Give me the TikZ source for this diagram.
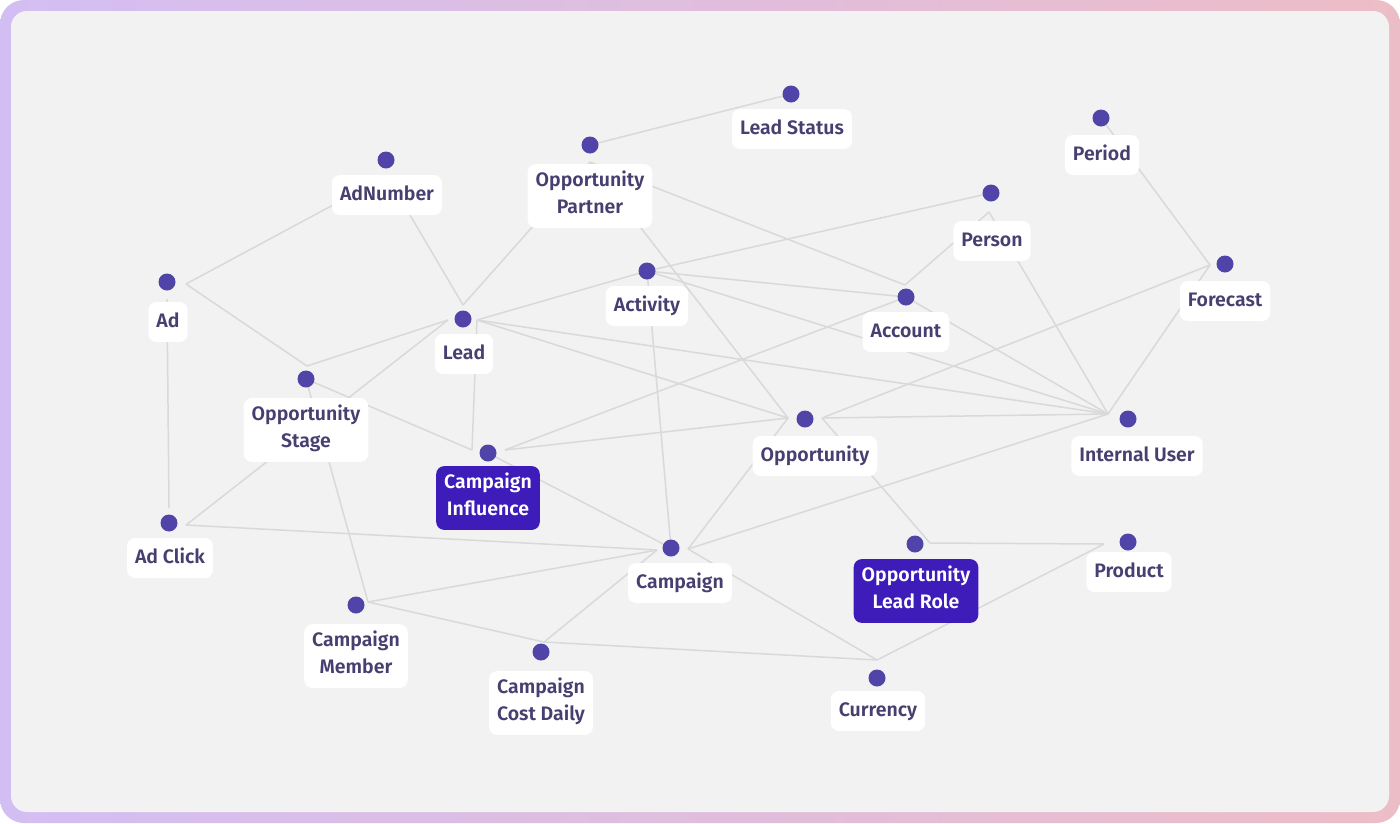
\documentclass[tikz,border=0pt]{standalone}
\usepackage{fontspec}
\newfontfamily\lblfont{Fira Sans}[UprightFont={* SemiBold}]
\definecolor{dotc}{HTML}{5044A8}
\definecolor{txtc}{HTML}{463F70}
\definecolor{hotc}{HTML}{3E1CB9}
\definecolor{edgec}{HTML}{D9D9D9}
\definecolor{panelc}{HTML}{F2F2F2}
\definecolor{lavc}{HTML}{D3BEF3}
\definecolor{pinkc}{HTML}{F5D5EA}
\definecolor{rosec}{HTML}{EDBDC7}
\begin{document}
\begin{tikzpicture}[x=1pt,y=-1pt]

    \tikzset{
      dot/.style={
        circle,
        fill=dotc,
        inner sep=0pt,
        minimum size=17pt,
      },
      lbl/.style={
        fill=white,
        rounded corners=8pt,
        text=txtc,
        font=\lblfont\fontsize{19.5}{27}\selectfont,
        align=center,
        inner xsep=8pt,
        inner ysep=6.5pt,
        execute at begin node=\strut,
        execute at end node=\strut,
      },
      hot/.style={lbl, fill=hotc, text=white},
      link/.style={draw=edgec, line width=1.5pt},
    }
    \useasboundingbox (0,0) rectangle (1400,823);
    \fill[white] (0,0) rectangle (1400,823);
    \shade[rounded corners=24pt, left color=lavc, middle color=pinkc, right color=rosec] (0,0) rectangle (1400,823);
    \fill[panelc, rounded corners=16pt] (11,11) rectangle (1389,812);

    % where the dots sit
    \coordinate (lstat) at (791,94);
    \coordinate (opart) at (590,145);
    \coordinate (adnum) at (386,160);
    \coordinate (period) at (1101,118);
    \coordinate (person) at (991,193);
    \coordinate (ad) at (167,282);
    \coordinate (activ) at (647,271);
    \coordinate (fcast) at (1225,264);
    \coordinate (acct) at (906,297);
    \coordinate (lead) at (463,319);
    \coordinate (ostage) at (306,379);
    \coordinate (opp) at (805,419);
    \coordinate (iuser) at (1128,419);
    \coordinate (cinfl) at (488,453);
    \coordinate (adclk) at (169,523);
    \coordinate (camp) at (671,548);
    \coordinate (olr) at (915,544);
    \coordinate (prod) at (1128,542);
    \coordinate (cmem) at (356,605);
    \coordinate (ccd) at (541,652);
    \coordinate (curr) at (877,678);

    % where the links meet, next to the dots
    \coordinate (adE) at (186,284);
    \coordinate (adS) at (167,299);
    \coordinate (adnumS) at (387,176);
    \coordinate (opartS) at (590,162);
    \coordinate (leadN) at (463,305);
    \coordinate (leadW) at (448,320);
    \coordinate (leadE) at (477,320);
    \coordinate (ostageN) at (307,366);
    \coordinate (cmemE) at (368,602);
    \coordinate (adclkN) at (169,508);
    \coordinate (adclkE) at (186,525);
    \coordinate (personS) at (989,212);
    \coordinate (acctN) at (905,285);
    \coordinate (fcastW) at (1210,265);
    \coordinate (iuserW) at (1108,414);
    \coordinate (oppW) at (788,418);
    \coordinate (oppE) at (822,418);
    \coordinate (cinflW) at (472,450);
    \coordinate (cinflE) at (505,450);
    \coordinate (campW) at (657,550);
    \coordinate (campE) at (688,549);
    \coordinate (olrE) at (930,543);
    \coordinate (prodW) at (1104,544);
    \coordinate (currN) at (877,660);
    \coordinate (ccdN) at (544,642);

    \foreach \a/\b in {lstat/opart, adnumS/adE, adnumS/leadN, adE/ostageN, adS/adclkN,
      opartS/leadN, opartS/oppW, opartS/acctN, ostageN/leadW, ostage/cinflW, ostage/cmemE,
      adclkE/leadW, adclkE/campW, leadE/activ, leadE/cinflW, leadE/iuserW, leadE/oppW,
      activ/person, activ/acct, activ/iuserW, activ/camp, personS/acctN, personS/iuserW,
      acct/iuserW, acct/cinflE, period/fcastW, fcastW/iuserW, fcastW/oppE,
      oppW/cinflE, oppE/iuserW, oppW/campE, oppE/olrE, cinfl/camp,
      campE/iuserW, campW/cmemE, campW/ccdN, campE/currN, cmemE/ccdN, ccdN/currN,
      currN/prodW, olrE/prodW}
      \draw[link] (\a) -- (\b);

    % labels
    \node[lbl] (lstatL) at (792,129) {Lead Status};
    \node[lbl] (opartL) at (590,196) {Opportunity\\Partner};
    \node[lbl] (adnumL) at (387,195) {AdNumber};
    \node[lbl] (periodL) at (1102,155) {Period};
    \node[lbl] (personL) at (992,241) {Person};
    \node[lbl] (adL) at (168,322) {Ad};
    \node[lbl] (activL) at (647,306) {Activity};
    \node[lbl] (fcastL) at (1225,301) {Forecast};
    \node[lbl] (acctL) at (906,332) {Account};
    \node[lbl] (leadL) at (464,354) {Lead};
    \node[lbl] (ostageL) at (306,430) {Opportunity\\Stage};
    \node[lbl] (oppL) at (815,456) {Opportunity};
    \node[lbl] (iuserL) at (1137,456) {Internal User};
    \node[hot] (cinflL) at (488,498) {Campaign\\Influence};
    \node[lbl] (adclkL) at (170,558) {Ad Click};
    \node[lbl] (campL) at (680,583) {Campaign};
    \node[hot] (olrL) at (916,591) {Opportunity\\Lead Role};
    \node[lbl] (prodL) at (1129,572) {Product};
    \node[lbl] (cmemL) at (356,656) {Campaign\\Member};
    \node[lbl] (ccdL) at (541,703) {Campaign\\Cost Daily};
    \node[lbl] (currL) at (878,711) {Currency};

    % dots on top
    \foreach \n in {lstat, opart, adnum, period, person, ad, activ, fcast, acct, lead,
      ostage, opp, iuser, cinfl, adclk, camp, olr, prod, cmem, ccd, curr}
      \node[dot] (\n D) at (\n) {};

\end{tikzpicture}
\end{document}
